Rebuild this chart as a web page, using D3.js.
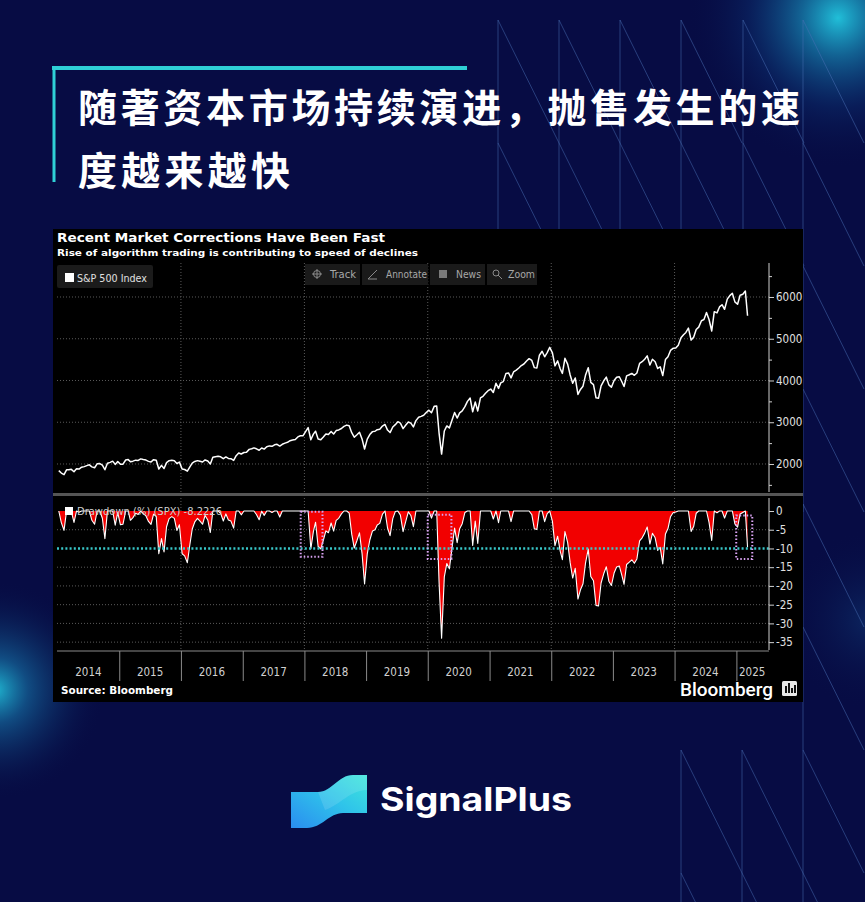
<!DOCTYPE html>
<html><head><meta charset="utf-8">
<script src="https://cdn.jsdelivr.net/npm/d3@7"></script>
<style>html,body{margin:0;padding:0;background:#070c44;} svg{display:block}</style>
</head><body><svg id="c" width="865" height="902"></svg>
<script>
// ---- DATA (S&P 500, two readings per month) ----
const spx2014 = [1840,1783, 1745,1859, 1860,1872, 1815,1884, 1878,1924, 1937,1960, 1980,1931, 1910,2003, 2011,1972, 1862,2018, 2039,2068, 1990,2059];
const spx2015 = [1992,1995, 2096,2105, 2053,2068, 2092,2086, 2122,2107, 2094,2063, 2046,2104, 2091,1880, 1966,1890, 2033,2079, 2090,2080, 2012,2044];
const spx2016 = [1880,1868, 1829,1932, 2020,2060, 2080,2065, 2047,2097, 2071,2000, 2160,2174, 2185,2171, 2127,2168, 2133,2126, 2085,2199, 2262,2239];
const spx2017 = [2275,2279, 2350,2364, 2385,2363, 2329,2384, 2357,2412, 2433,2423, 2460,2470, 2430,2472, 2500,2519, 2557,2575, 2585,2648, 2675,2674];
const spx2018 = [2776,2872, 2581,2714, 2786,2600, 2581,2648, 2720,2705, 2780,2718, 2800,2816, 2850,2902, 2931,2914, 2750,2641, 2700,2760, 2600,2360];
const spx2019 = [2596,2704, 2775,2784, 2822,2834, 2907,2946, 2812,2752, 2886,2942, 3013,2980, 2847,2926, 3006,2977, 2887,3038, 3120,3141, 3168,3231];
const spx2020 = [3289,3226, 3380,3386, 2741,2237, 2790,2912, 2863,3044, 3232,3100, 3226,3271, 3373,3500, 3580,3250, 3483,3270, 3585,3622, 3694,3756];
const spx2021 = [3795,3714, 3934,3811, 3943,3973, 4170,4181, 4063,4204, 4247,4298, 4358,4395, 4468,4523, 4480,4308, 4300,4605, 4700,4567, 4668,4793];
const spx2022 = [4660,4350, 4470,4280, 4170,4530, 4392,4132, 3935,4060, 3667,3785, 3863,4130, 4305,3955, 3900,3586, 3577,3872, 3993,4080, 3895,3840];
const spx2023 = [3999,4077, 4090,3970, 3855,4109, 4138,4169, 4124,4180, 4410,4450, 4510,4589, 4370,4508, 4450,4288, 4327,4117, 4500,4568, 4720,4770];
const spx2024 = [4780,4846, 5022,5096, 5150,5254, 4967,5036, 5222,5278, 5432,5460, 5630,5460, 5186,5648, 5620,5762, 5815,5705, 5949,6032, 6090,5882];
const spx2025 = [5827,6041, 6066,6144, 5550];

const yearLabels = ["2014","2015","2016","2017","2018","2019","2020","2021","2022","2023","2024","2025"];
const priceTicks = [2000,3000,4000,5000,6000];
const priceMinor = [1500,2500,3500,4500,5500,6500];
const ddTicks = [0,-5,-10,-15,-20,-25,-30,-35];
const ddGrid = [-5,-15,-20,-25,-30,-35];
const thresholdDD = -10;
const corrStart = ["2017-12-10","2020-01-01","2024-12-31"];
const corrEnd   = ["2018-04-18","2020-05-20","2025-04-05"];
const corrTop   = [-0.2,-1.0,-1.2];
const corrDepth = [-12.2,-12.8,-12.8];
const titleLines = ["随著资本市场持续演进，抛售发生的速","度越来越快"];
const chartTitle = "Recent Market Corrections Have Been Fast";
const chartSub = "Rise of algorithm trading is contributing to speed of declines";
const ddLegend = "Drawdown (%) (SPX) -8.2226";

// ---- build series ----
const allVals = [].concat(spx2014,spx2015,spx2016,spx2017,spx2018,spx2019,spx2020,spx2021,spx2022,spx2023,spx2024,spx2025);
let runMax = -Infinity;
const series = allVals.map((v,i)=>{
  const m = Math.floor(i/2);
  const date = new Date(2014 + Math.floor(m/12), m%12, i%2===0 ? 8 : 23);
  runMax = Math.max(runMax, v);
  return {date, v, dd: (v/runMax - 1)*100};
});

const svg = d3.select("#c");
const defs = svg.append("defs");
const narrow = "'Liberation Sans Narrow','DejaVu Sans Condensed','Roboto',sans-serif";

// ---- background ----
svg.append("rect").attr("width",865).attr("height",902).attr("fill","#070c44");
function glow(id,cx,cy,r,stops){
  const g = defs.append("radialGradient").attr("id",id).attr("gradientUnits","userSpaceOnUse")
    .attr("cx",cx).attr("cy",cy).attr("r",r);
  stops.forEach(s=>g.append("stop").attr("offset",s[0]).attr("stop-color",s[1]).attr("stop-opacity",s[2]));
  svg.append("circle").attr("cx",cx).attr("cy",cy).attr("r",r).attr("fill",`url(#${id})`);
}
glow("g1",838,18,150,[[0,"#22c8e0",0.95],[0.25,"#1a9cc8",0.6],[0.6,"#0f4f96",0.25],[1,"#070c44",0]]);
glow("g2",-5,690,110,[[0,"#22c8e0",0.9],[0.3,"#1a8cc0",0.5],[1,"#070c44",0]]);
glow("g3",870,620,90,[[0,"#1a6fb0",0.25],[1,"#070c44",0]]);

// decorative thin lines
const deco = svg.append("g").attr("stroke","#4a6fb5").attr("stroke-opacity",0.5).attr("stroke-width",1);
function tile(x0,y0){
  deco.append("line").attr("x1",x0).attr("y1",y0).attr("x2",x0).attr("y2",y0+123);
  deco.append("line").attr("x1",x0).attr("y1",y0).attr("x2",x0+61).attr("y2",y0+123);
}
[498,559,620,681,743].forEach(x=>{tile(x,20);tile(x,143);});
[20,143,266,389,504,627,750,873].forEach(y=>tile(803,y));
[681,742].forEach(x=>{tile(x,750);tile(x,873);});

// ---- title ----
svg.append("line").attr("x1",52).attr("x2",467).attr("y1",68).attr("y2",68).attr("stroke","#2fd0d6").attr("stroke-width",4);
svg.append("line").attr("x1",54).attr("x2",54).attr("y1",66).attr("y2",182).attr("stroke","#2fd0d6").attr("stroke-width",3);
svg.append("text").attr("x",78).attr("y",122).attr("textLength",722).attr("lengthAdjust","spacing")
  .attr("fill","#fff").attr("font-family","'Noto Sans CJK SC',sans-serif").attr("font-weight",700).attr("font-size",39).text(titleLines[0]);
svg.append("text").attr("x",78).attr("y",185).attr("textLength",212).attr("lengthAdjust","spacing")
  .attr("fill","#fff").attr("font-family","'Noto Sans CJK SC',sans-serif").attr("font-weight",700).attr("font-size",39).text(titleLines[1]);

// ---- chart panel ----
svg.append("rect").attr("x",53).attr("y",229).attr("width",750).attr("height",473).attr("fill","#000");
svg.append("text").attr("x",57).attr("y",242).attr("textLength",328).attr("lengthAdjust","spacingAndGlyphs")
  .attr("fill","#fff").attr("font-family","'DejaVu Sans',sans-serif").attr("font-weight",700).attr("font-size",13).text(chartTitle);
svg.append("text").attr("x",57).attr("y",256).attr("textLength",361).attr("lengthAdjust","spacingAndGlyphs")
  .attr("fill","#fff").attr("font-family","'DejaVu Sans',sans-serif").attr("font-weight",700).attr("font-size",9.5).text(chartSub);

const x = d3.scaleTime().domain([new Date(2014,0,1), new Date(2025,0,1)]).range([57.6, 736.4]);
const yTop = d3.scaleLinear().domain([1329, 6814]).range([492, 263]);
const yBot = d3.scaleLinear().domain([3.47, -37.1]).range([498, 650]);
const xL = 57, xR = 769;

// gridlines
const grid = svg.append("g").attr("stroke","#5a5a5a").attr("stroke-width",1).attr("stroke-dasharray","1,2");
priceTicks.forEach(t=>grid.append("line").attr("x1",xL).attr("x2",xR).attr("y1",yTop(t)).attr("y2",yTop(t)));
ddGrid.forEach(t=>grid.append("line").attr("x1",xL).attr("x2",xR).attr("y1",yBot(t)).attr("y2",yBot(t)));
[2016,2018,2020,2022,2024].forEach(yr=>{
  const xx = x(new Date(yr,0,1));
  grid.append("line").attr("x1",xx).attr("x2",xx).attr("y1",263).attr("y2",492);
  grid.append("line").attr("x1",xx).attr("x2",xx).attr("y1",498).attr("y2",650);
});

// legend + toolbar (upper)
svg.append("rect").attr("x",57).attr("y",265).attr("width",96).attr("height",23).attr("rx",2).attr("fill","#1b1b1b");
svg.append("rect").attr("x",65).attr("y",273).attr("width",9).attr("height",9).attr("fill","#fff");
svg.append("text").attr("x",77).attr("y",282).attr("textLength",70).attr("lengthAdjust","spacingAndGlyphs")
  .attr("fill","#e0e0e0").attr("font-family",narrow).attr("font-size",11).text("S&P 500 Index");
const tb = [["Track",305,360,330,26],["Annotate",362,428,386,41],["News",430,485,456,25],["Zoom",487,537,508,27]];
tb.forEach(b=>{
  svg.append("rect").attr("x",b[1]).attr("y",264).attr("width",b[2]-b[1]).attr("height",21).attr("fill","#1a1a1a");
  svg.append("text").attr("x",b[3]).attr("y",278).attr("textLength",b[4]).attr("lengthAdjust","spacingAndGlyphs")
    .attr("fill","#a8a8a8").attr("font-family",narrow).attr("font-size",11).text(b[0]);
});
const ic = svg.append("g").attr("stroke","#8a8a8a").attr("fill","none").attr("stroke-width",1);
ic.append("circle").attr("cx",317).attr("cy",274).attr("r",3.5);
ic.append("path").attr("d","M317,269V279M312,274H322");
ic.append("path").attr("d","M368,279L377,270M368,279H377");
svg.append("rect").attr("x",439).attr("y",270).attr("width",8).attr("height",8).attr("fill","#7a7a7a");
ic.append("circle").attr("cx",496).attr("cy",273).attr("r",3);
ic.append("path").attr("d","M498,275L502,279");

// price line
svg.append("path").datum(series).attr("fill","none").attr("stroke","#fff").attr("stroke-width",1.5)
  .attr("stroke-linejoin","round")
  .attr("d", d3.line().x(d=>x(d.date)).y(d=>yTop(d.v)));

// upper axis
const axT = svg.append("g").attr("transform",`translate(${xR},0)`)
  .call(d3.axisRight(yTop).tickValues(priceTicks).tickSize(5).tickPadding(2).tickFormat(d3.format("d")));
axT.select(".domain").attr("d","M0,263V492");
const axTm = svg.append("g").attr("transform",`translate(${xR},0)`)
  .call(d3.axisRight(yTop).tickValues(priceMinor).tickSize(3).tickFormat(""));
axTm.select(".domain").remove();
axTm.selectAll("line").attr("stroke","#cfcfcf");

// separator
svg.append("rect").attr("x",53).attr("y",493).attr("width",750).attr("height",3).attr("fill","#555");

// drawdown area + line
svg.append("path").datum(series).attr("fill","#f20000")
  .attr("d", d3.area().x(d=>x(d.date)).y0(yBot(0)).y1(d=>yBot(d.dd)));
svg.append("path").datum(series).attr("fill","none").attr("stroke","#fff").attr("stroke-width",1.1)
  .attr("stroke-linejoin","round")
  .attr("d", d3.line().x(d=>x(d.date)).y(d=>yBot(d.dd)));

// drawdown legend (on top of data)
svg.append("rect").attr("x",65).attr("y",507).attr("width",8).attr("height",8).attr("fill","#fff");
svg.append("text").attr("x",77).attr("y",515).attr("textLength",145).attr("lengthAdjust","spacingAndGlyphs")
  .attr("fill","#cfcfcf").attr("font-family",narrow).attr("font-size",11).text(ddLegend);

// threshold
svg.append("line").attr("x1",xL).attr("x2",xR).attr("y1",yBot(thresholdDD)).attr("y2",yBot(thresholdDD))
  .attr("stroke","#38c6c8").attr("stroke-width",2.4).attr("stroke-dasharray","2,2.2");

// correction boxes
corrStart.forEach((s,i)=>{
  const x0 = x(new Date(s)), x1 = x(new Date(corrEnd[i]));
  svg.append("rect").attr("x",x0).attr("y",yBot(corrTop[i])).attr("width",x1-x0)
    .attr("height",yBot(corrDepth[i])-yBot(corrTop[i]))
    .attr("fill","none").attr("stroke","#d9a2f2").attr("stroke-width",2).attr("stroke-dasharray","1.5,2");
});

// lower axis
const axB = svg.append("g").attr("transform",`translate(${xR},0)`)
  .call(d3.axisRight(yBot).tickValues(ddTicks).tickSize(5).tickPadding(2).tickFormat(d=>String(d)));
axB.select(".domain").attr("d","M0,498V650");

[axT,axB].forEach(a=>{
  a.selectAll("line").attr("stroke","#cfcfcf");
  a.select(".domain").attr("stroke","#cfcfcf");
  a.selectAll("text").attr("fill","#e0e0e0").attr("font-family",narrow).attr("font-size",11.5);
});

// x axis
svg.append("line").attr("x1",xL).attr("x2",xR).attr("y1",651).attr("y2",651).attr("stroke","#8a8a8a");
const xAx = svg.append("g").attr("transform","translate(0,651)")
  .call(d3.axisBottom(x).tickValues(d3.range(2015,2026).map(y=>new Date(y,0,1))).tickSize(30).tickFormat(""));
xAx.select(".domain").remove();
xAx.selectAll("line").attr("stroke","#8a8a8a");
yearLabels.forEach(yl=>{
  const yr = +yl;
  const a = x(new Date(yr,0,1)), b = Math.min(x(new Date(yr+1,0,1)), xR-1);
  svg.append("text").attr("x",(Math.max(a,xL)+b)/2).attr("y",676).attr("text-anchor","middle")
    .attr("fill","#d0d0d0").attr("font-family",narrow).attr("font-size",11.5).text(yl);
});

// source + bloomberg
svg.append("text").attr("x",61).attr("y",694).attr("textLength",112).attr("lengthAdjust","spacingAndGlyphs")
  .attr("fill","#fff").attr("font-family","'DejaVu Sans',sans-serif").attr("font-weight",700).attr("font-size",10).text("Source: Bloomberg");
svg.append("text").attr("x",680).attr("y",696).attr("textLength",93).attr("lengthAdjust","spacingAndGlyphs")
  .attr("fill","#fff").attr("font-family","Roboto,sans-serif").attr("font-weight",500).attr("font-size",19).text("Bloomberg");
svg.append("rect").attr("x",782).attr("y",681).attr("width",15).attr("height",15).attr("rx",1.5).attr("fill","#e8e8e8");
[[785,2,7],[788,2,10],[791,2,5],[794,2,8]].forEach(b=>
  svg.append("rect").attr("x",b[0]).attr("y",693-b[2]).attr("width",b[1]).attr("height",b[2]).attr("fill","#111"));

// ---- SignalPlus logo ----
const lg = defs.append("linearGradient").attr("id","lg").attr("x1","0").attr("y1","1").attr("x2","1").attr("y2","0");
lg.append("stop").attr("offset",0).attr("stop-color","#2a8df0");
lg.append("stop").attr("offset",0.55).attr("stop-color","#2fc3ea");
lg.append("stop").attr("offset",1).attr("stop-color","#3fe6dc");
svg.append("path").attr("d","M291,792 L318,792 C332,792 338,775 353,775 L367,775 L367,813 L343,813 C329,813 322,828 307,828 L291,828 Z")
  .attr("fill","url(#lg)");
svg.append("path").attr("d","M318,792 C332,792 338,775 353,775 L367,775 L367,790 C350,790 340,805 325,810 Z")
  .attr("fill","#ffffff").attr("opacity",0.12);
svg.append("text").attr("x",380).attr("y",811).attr("textLength",192).attr("lengthAdjust","spacingAndGlyphs")
  .attr("fill","#fff").attr("font-family","Inter,'Open Sans',sans-serif").attr("font-weight",700).attr("font-size",33).text("SignalPlus");
</script></body></html>
